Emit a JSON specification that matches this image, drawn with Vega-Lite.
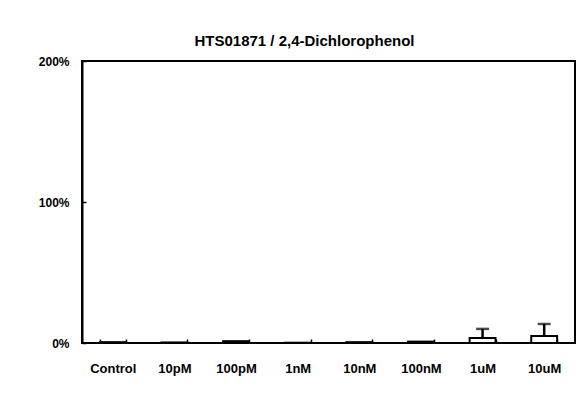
{
  "$schema": "https://vega.github.io/schema/vega-lite/v6.json",
  "width": 493,
  "height": 282,
  "autosize": {"type": "none"},
  "padding": {"left": 82, "top": 61, "right": 12, "bottom": 54},
  "background": "white",
  "title": {
    "text": "HTS01871 / 2,4-Dichlorophenol",
    "font": "Liberation Sans",
    "fontSize": 15,
    "fontWeight": "bold",
    "color": "black",
    "anchor": "middle",
    "dx": -24,
    "offset": -6,
    "baseline": "alphabetic"
  },
  "config": {
    "view": {"stroke": "black", "strokeWidth": 2},
    "axis": {
      "labelFont": "Liberation Sans",
      "labelFontWeight": "bold",
      "labelColor": "black",
      "grid": false,
      "title": null
    }
  },
  "data": {
    "values": [
      {"cond": "Control", "mean": 0.6, "upper": null},
      {"cond": "10pM", "mean": 0.4, "upper": null},
      {"cond": "100pM", "mean": 1.3, "upper": null},
      {"cond": "1nM", "mean": 0.2, "upper": null},
      {"cond": "10nM", "mean": 0.6, "upper": null},
      {"cond": "100nM", "mean": 1.0, "upper": null},
      {"cond": "1uM", "mean": 3.5, "upper": 10},
      {"cond": "10uM", "mean": 5, "upper": 13.5}
    ]
  },
  "encoding": {
    "x": {
      "field": "cond",
      "type": "nominal",
      "sort": null,
      "title": null,
      "scale": {"paddingInner": 0.58, "paddingOuter": 0.29},
      "axis": {
        "labelAngle": 0,
        "labelFontSize": 13,
        "labelPadding": 23,
        "domain": false,
        "ticks": true,
        "tickBand": "extent",
        "tickSize": -4,
        "tickColor": "black",
        "tickWidth": 1.5
      }
    }
  },
  "layer": [
    {
      "mark": {"type": "bar", "fill": "white", "stroke": "black", "strokeWidth": 2},
      "encoding": {
        "y": {
          "field": "mean",
          "type": "quantitative",
          "title": null,
          "scale": {"domain": [0, 200]},
          "axis": {
            "values": [0, 100, 200],
            "labelExpr": "datum.value + '%'",
            "labelFontSize": 12,
            "labelPadding": 17,
            "domain": true,
            "domainColor": "black",
            "domainWidth": 2,
            "tickSize": -4,
            "tickColor": "black",
            "tickWidth": 1.5
          }
        }
      }
    },
    {
      "transform": [{"filter": "datum.upper != null"}],
      "mark": {"type": "rule", "color": "black", "strokeWidth": 2.5},
      "encoding": {
        "y": {"field": "mean", "type": "quantitative"},
        "y2": {"field": "upper"}
      }
    },
    {
      "transform": [{"filter": "datum.upper != null"}],
      "mark": {"type": "tick", "color": "black", "thickness": 2.5, "size": 13, "orient": "horizontal"},
      "encoding": {
        "y": {"field": "upper", "type": "quantitative"}
      }
    }
  ]
}
